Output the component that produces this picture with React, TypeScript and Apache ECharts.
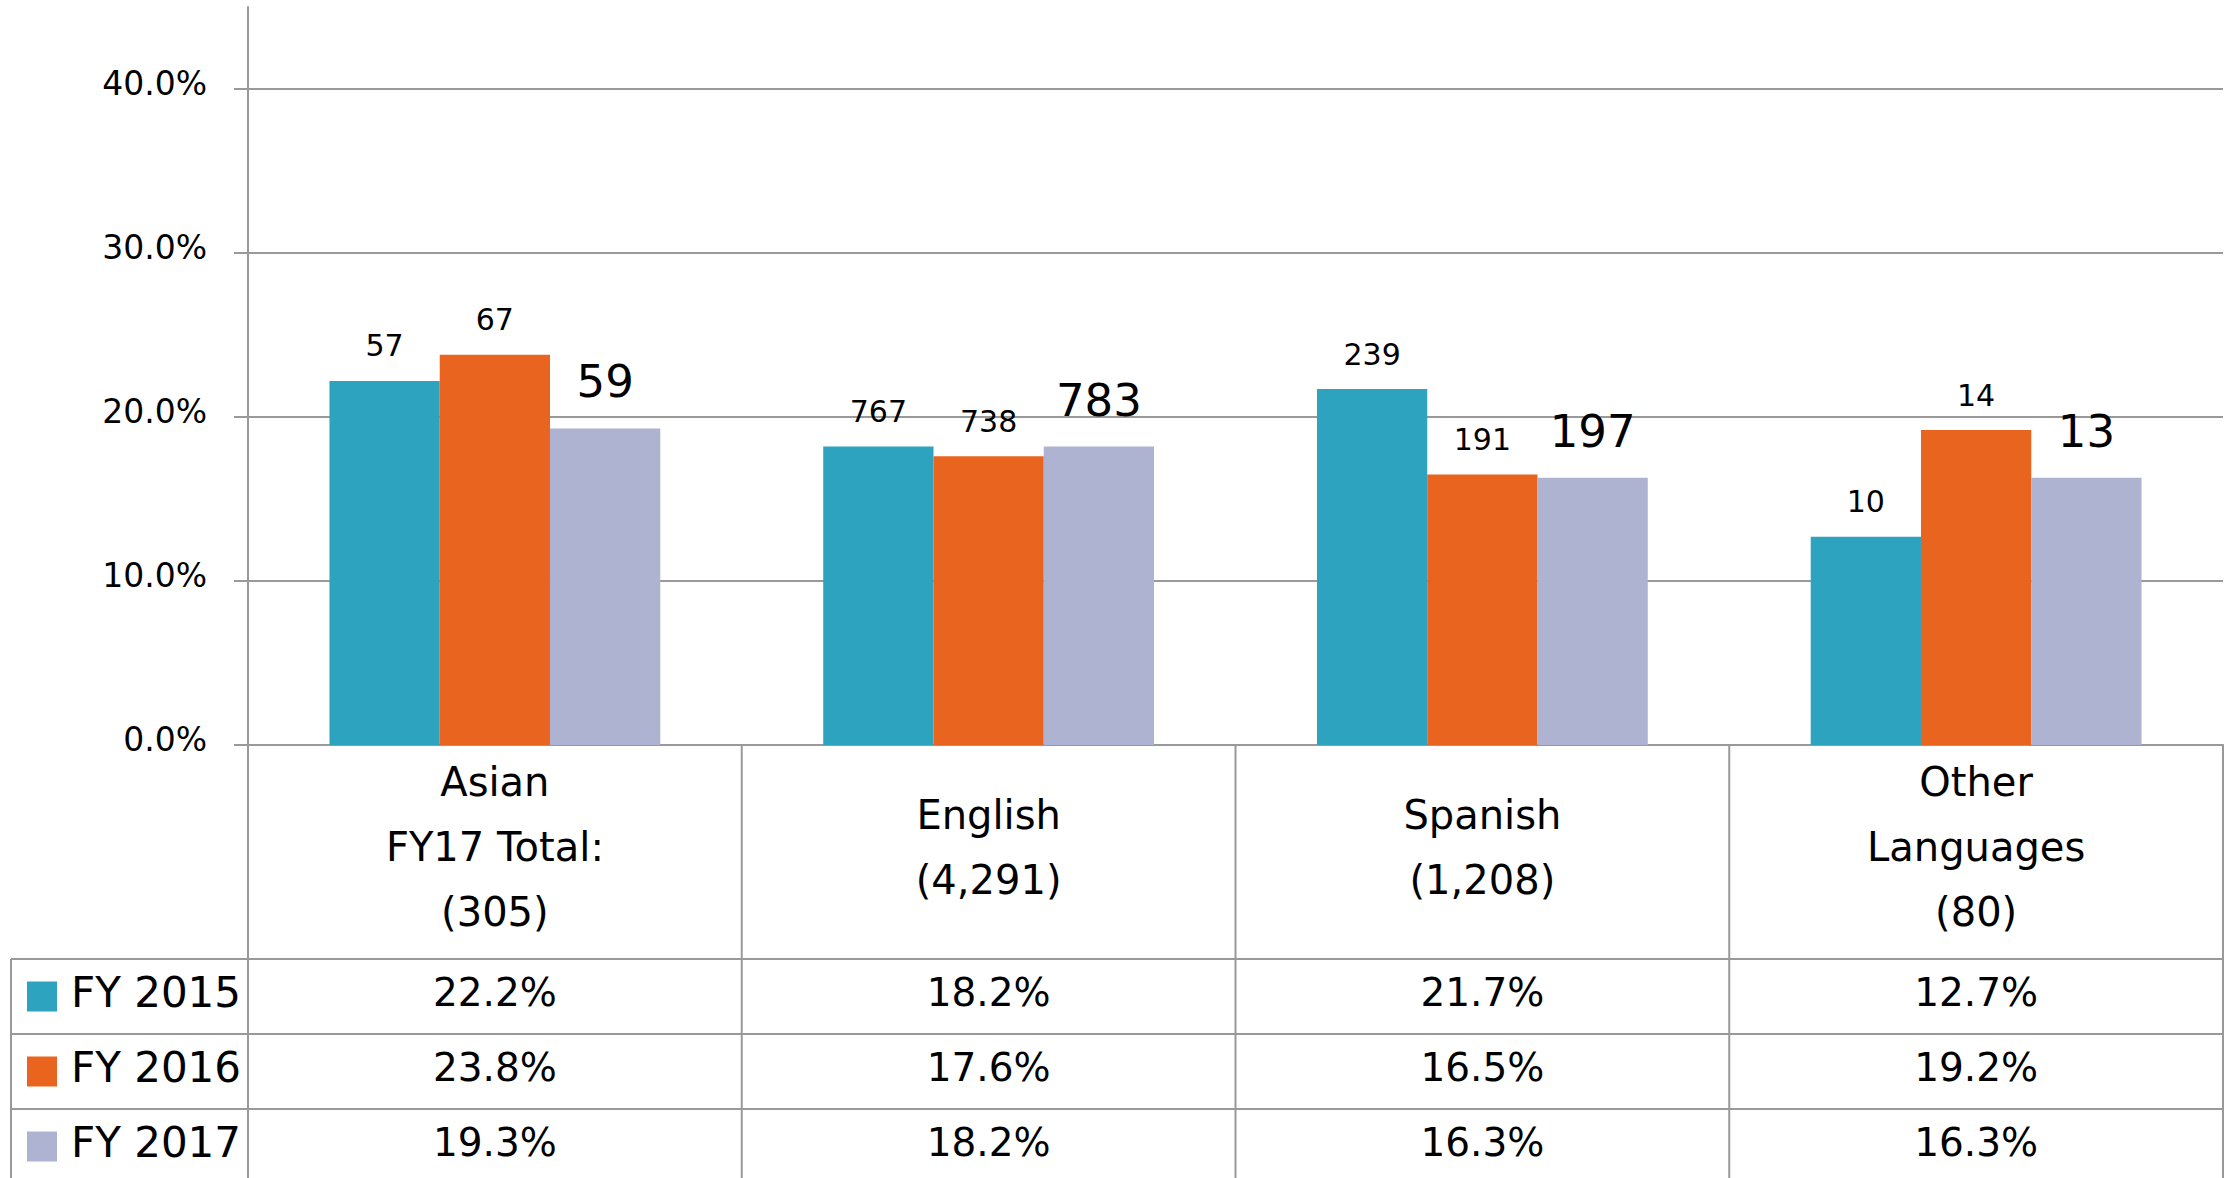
import React, { useEffect, useRef } from 'react';
import * as echarts from 'echarts';

const categories = ['Asian\nFY17 Total:\n(305)', 'English\n(4,291)', 'Spanish\n(1,208)', 'Other\nLanguages\n(80)'];
const seriesNames = ['FY 2015', 'FY 2016', 'FY 2017'];
const fy2015Pct = [22.2, 18.2, 21.7, 12.7];
const fy2016Pct = [23.8, 17.6, 16.5, 19.2];
const fy2017Pct = [19.3, 18.2, 16.3, 16.3];
const fy2015Count = [57, 767, 239, 10];
const fy2016Count = [67, 738, 191, 14];
const fy2017Count = [59, 783, 197, 13];
const yTicks = [0, 10, 20, 30, 40];
const colors = ['#2DA3C0', '#E9641F', '#AFB3D2'];

const W = 2236;
const H = 1178;
const FONT = 'DejaVu Sans';
const GRID_LEFT = 248;
const GRID_RIGHT = 2223;
const GRID_TOP = 7;
const AXIS_Y = 745;
const HEADER_BOTTOM = 959;
const ROW_H = 75;
const TABLE_LEFT = 11;
const LINE = '#999999';

export default function App() {
  const ref = useRef<HTMLDivElement>(null);
  useEffect(() => {
    if (!ref.current) return;
    const chart = echarts.init(ref.current, null, { renderer: 'svg' });
    const pcts = [fy2015Pct, fy2016Pct, fy2017Pct];
    const counts = [fy2015Count, fy2016Count, fy2017Count];
    const colW = (GRID_RIGHT - GRID_LEFT) / categories.length;

    const graphic: any[] = [];
    for (let i = 0; i <= categories.length; i++) {
      const x = GRID_LEFT + i * colW;
      graphic.push({ type: 'line', shape: { x1: x, y1: AXIS_Y, x2: x, y2: H }, style: { stroke: LINE, lineWidth: 2 } });
    }
    graphic.push({ type: 'line', shape: { x1: TABLE_LEFT, y1: HEADER_BOTTOM, x2: TABLE_LEFT, y2: H }, style: { stroke: LINE, lineWidth: 2 } });
    for (let r = 0; r < 3; r++) {
      const y = HEADER_BOTTOM + r * ROW_H;
      graphic.push({ type: 'line', shape: { x1: TABLE_LEFT, y1: y, x2: GRID_RIGHT, y2: y }, style: { stroke: LINE, lineWidth: 2 } });
      const cy = y + ROW_H / 2;
      graphic.push({ type: 'rect', shape: { x: 27, y: cy - 15, width: 30, height: 30 }, style: { fill: colors[r] } });
      graphic.push({ type: 'text', x: 71, y: cy - 4, style: { text: seriesNames[r], font: `42px "${FONT}"`, fill: '#000', textVerticalAlign: 'middle', textAlign: 'left' } });
      for (let c = 0; c < categories.length; c++) {
        graphic.push({
          type: 'text', x: GRID_LEFT + (c + 0.5) * colW, y: cy - 4,
          style: { text: pcts[r][c].toFixed(1) + '%', font: `39px "${FONT}"`, fill: '#000', textAlign: 'center', textVerticalAlign: 'middle' },
        });
      }
    }

    const option: any = {
      animation: false,
      textStyle: { fontFamily: FONT },
      grid: { left: GRID_LEFT, right: W - GRID_RIGHT, top: GRID_TOP, bottom: H - AXIS_Y, containLabel: false },
      xAxis: {
        type: 'category',
        data: categories,
        axisLine: { lineStyle: { color: LINE, width: 2 } },
        axisTick: { show: false },
        axisLabel: { fontFamily: FONT, fontSize: 40, lineHeight: 65, color: '#000', verticalAlign: 'middle', margin: 102, interval: 0 },
      },
      yAxis: {
        type: 'value',
        min: 0,
        max: 45,
        axisLine: { show: true, lineStyle: { color: LINE, width: 2 } },
        axisTick: { show: true, length: 14, customValues: yTicks, lineStyle: { color: LINE, width: 2 } },
        axisLabel: {
          customValues: yTicks, fontFamily: FONT, fontSize: 33, color: '#000', margin: 41,
          formatter: (v: number) => '{a|' + v.toFixed(1) + '%}',
          rich: { a: { fontFamily: FONT, fontSize: 33, color: '#000', padding: [0, 0, 12, 0] } },
        },
        splitLine: { show: true, lineStyle: { color: LINE, width: 2 } },
      },
      series: seriesNames.map((name, si) => ({
        name,
        type: 'bar',
        data: pcts[si],
        barGap: '0%',
        barCategoryGap: '33%',
        itemStyle: { color: colors[si] },
        label: {
          show: true,
          position: 'top',
          distance: si === 2 ? 24 : 20,
          fontFamily: FONT,
          fontSize: si === 2 ? 45 : 30,
          lineHeight: si === 2 ? 45 : 30,
          color: '#000',
          formatter: (p: any) => String(counts[si][p.dataIndex]),
        },
      })),
      graphic,
    };
    chart.setOption(option);
    return () => chart.dispose();
  }, []);
  return <div ref={ref} style={{ position: 'absolute', left: 0, top: 0, width: W, height: H, background: '#fff' }} />;
}
